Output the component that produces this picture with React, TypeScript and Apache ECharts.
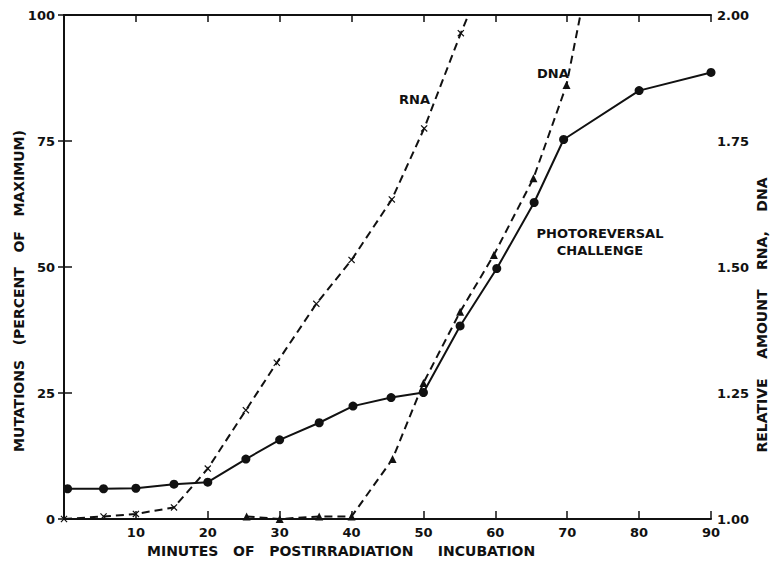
import React, { useEffect, useRef } from "react";
import * as echarts from "echarts";

// Mutations (percent of maximum), solid line with dots
const mutMinutes = [0.5, 5.5, 10, 15.3, 20, 25.3, 30, 35.5, 40.2, 45.5, 50, 55.1, 60.2, 65.4, 69.5, 80, 90];
const mutValues = [6, 6, 6.1, 6.9, 7.3, 11.9, 15.7, 19.1, 22.4, 24.1, 25.1, 38.3, 49.7, 62.8, 75.3, 85, 88.6];

// Relative amount RNA (dashed, x markers)
const rnaMinutes = [0, 5.5, 10, 15.3, 20, 25.3, 29.6, 35.1, 40, 45.6, 50.1, 55.2];
const rnaValues = [1.0, 1.005, 1.01, 1.023, 1.1, 1.216, 1.31, 1.427, 1.514, 1.634, 1.775, 1.964];
const rnaExit = [56.4, 2.005];

// Relative amount DNA (dashed, triangles)
const dnaMinutes = [25.4, 30, 35.5, 40, 45.7, 50, 55.1, 59.8, 65.3, 69.9];
const dnaValues = [1.005, 1.0, 1.005, 1.005, 1.119, 1.27, 1.411, 1.524, 1.676, 1.861];
const dnaExit = [71.9, 2.005];

const xTicks = { min: 0, max: 90, interval: 10 };
const leftTicks = { min: 0, max: 100, interval: 25 };
const rightTicks = { min: 1.0, max: 2.0, interval: 0.25 };

const xTitle = "MINUTES   OF   POSTIRRADIATION     INCUBATION";
const leftTitle = "MUTATIONS   (PERCENT   OF   MAXIMUM)";
const rightTitle = "RELATIVE    AMOUNT    RNA,    DNA";

const FONT = "'DejaVu Sans', sans-serif";
const INK = "#111";
const XMARK = "path://M0,1.2 L1.2,0 L5,3.8 L8.8,0 L10,1.2 L6.2,5 L10,8.8 L8.8,10 L5,6.2 L1.2,10 L0,8.8 L3.8,5 Z";

export default function App() {
  const ref = useRef<HTMLDivElement>(null);
  useEffect(() => {
    if (!ref.current) return;
    const chart = echarts.init(ref.current, undefined, { renderer: "svg" });
    const labelStyle = { color: INK, fontFamily: FONT, fontWeight: "bold" as const, fontSize: 13 };
    const axisLine = { show: true, lineStyle: { color: INK, width: 2 } };
    const mutData = mutMinutes.map((m, i) => [m, mutValues[i]]);
    const rnaData: any[] = rnaMinutes.map((m, i) => [m, rnaValues[i]]);
    rnaData.push({ value: rnaExit, symbol: "none" });
    const dnaData: any[] = dnaMinutes.map((m, i) => [m, dnaValues[i]]);
    dnaData.push({ value: dnaExit, symbol: "none" });

    chart.setOption({
      animation: false,
      backgroundColor: "#fff",
      grid: { left: 64, right: 61, top: 15, bottom: 44, containLabel: false },
      xAxis: [
        {
          type: "value",
          position: "bottom",
          ...xTicks,
          axisLine,
          axisTick: { show: true, inside: true, length: 8, lineStyle: { color: INK, width: 1.5 } },
          axisLabel: {
            ...labelStyle,
            margin: 7,
            formatter: (v: number) => (v === 0 ? "" : String(v)),
          },
          splitLine: { show: false },
        },
        {
          type: "value",
          position: "top",
          ...xTicks,
          axisLine,
          axisTick: { show: true, inside: true, length: 7, lineStyle: { color: INK, width: 1.5 } },
          axisLabel: { show: false },
          splitLine: { show: false },
        },
      ],
      yAxis: [
        {
          type: "value",
          position: "left",
          ...leftTicks,
          axisLine,
          axisTick: { show: true, inside: true, length: 8, lineStyle: { color: INK, width: 1.5 } },
          axisLabel: { ...labelStyle, margin: 9 },
          splitLine: { show: false },
        },
        {
          type: "value",
          position: "right",
          ...rightTicks,
          axisLine,
          axisTick: { show: true, inside: true, length: 6, lineStyle: { color: INK, width: 1.5 } },
          axisLabel: { ...labelStyle, margin: 6, formatter: (v: number) => v.toFixed(2) },
          splitLine: { show: false },
        },
      ],
      series: [
        {
          name: "Mutations",
          type: "line",
          xAxisIndex: 0,
          yAxisIndex: 0,
          data: mutData,
          symbol: "circle",
          symbolSize: 9,
          itemStyle: { color: INK },
          lineStyle: { color: INK, width: 2 },
          z: 3,
        },
        {
          name: "RNA",
          type: "line",
          xAxisIndex: 0,
          yAxisIndex: 1,
          data: rnaData,
          symbol: XMARK,
          symbolSize: 7,
          itemStyle: { color: INK },
          lineStyle: { color: INK, width: 2, type: [8, 5] },
          clip: true,
          z: 2,
        },
        {
          name: "DNA",
          type: "line",
          xAxisIndex: 0,
          yAxisIndex: 1,
          data: dnaData,
          symbol: "triangle",
          symbolSize: 8,
          itemStyle: { color: INK },
          lineStyle: { color: INK, width: 2, type: [8, 5] },
          clip: true,
          z: 2,
        },
      ],
      graphic: [
        {
          type: "text",
          left: 147,
          top: 544,
          style: { text: xTitle, fill: INK, font: `bold 14px ${FONT}` },
        },
        {
          type: "text",
          x: 19,
          y: 291,
          rotation: Math.PI / 2,
          style: { text: leftTitle, fill: INK, font: `bold 14px ${FONT}`, align: "center", verticalAlign: "middle" },
        },
        {
          type: "text",
          x: 762,
          y: 315,
          rotation: Math.PI / 2,
          style: { text: rightTitle, fill: INK, font: `bold 14px ${FONT}`, align: "center", verticalAlign: "middle" },
        },
        {
          type: "text",
          x: 430,
          y: 99,
          style: { text: "RNA", fill: INK, font: `bold 13px ${FONT}`, align: "right", verticalAlign: "middle" },
        },
        {
          type: "text",
          x: 537,
          y: 73,
          style: { text: "DNA", fill: INK, font: `bold 13px ${FONT}`, align: "left", verticalAlign: "middle" },
        },
        {
          type: "text",
          x: 600,
          y: 242,
          style: {
            text: "PHOTOREVERSAL\nCHALLENGE",
            fill: INK,
            font: `bold 13px ${FONT}`,
            align: "center",
            verticalAlign: "middle",
            lineHeight: 17,
          },
        },
      ],
    });
    return () => chart.dispose();
  }, []);
  return (
    <div
      ref={ref}
      style={{ position: "fixed", left: 0, top: 0, width: 772, height: 563, background: "#fff" }}
    />
  );
}
